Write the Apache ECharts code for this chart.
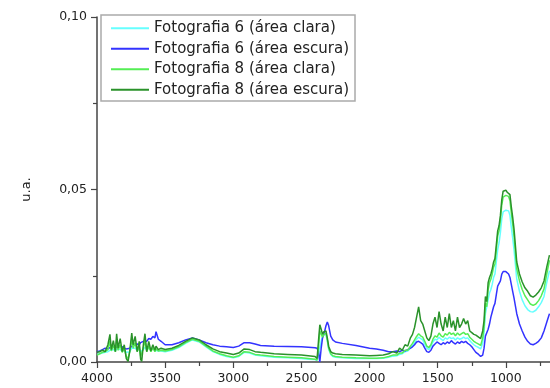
<!DOCTYPE html>
<html>
<head>
<meta charset="utf-8">
<script src="https://cdn.jsdelivr.net/npm/echarts@6/dist/echarts.min.js"></script>
<style>html,body{margin:0;padding:0;background:#fff}#c{width:550px;height:388px}</style>
</head>
<body>
<div id="c"></div>
<script>
const seriesNames = ['Fotografia 6 (área clara)','Fotografia 6 (área escura)','Fotografia 8 (área clara)','Fotografia 8 (área escura)'];
const xTicks = [4000,3500,3000,2500,2000,1500,1000];
const yTicks = [0, 0.05, 0.10];

const wavenumber = [
 4000,3980,3960,3940,3920,3905,3895,3880,3865,3856,3845,3830,3815,3800,3785,3772,3760,3745,3735,3720,3705,3690,3680,3672,3660,3648,3635,3620,3605,3590,3575,3567,3550,3530,3500,
 3450,3400,3350,3300,3250,3200,3150,3100,3050,3000,2960,2920,2880,2840,2800,2700,2600,2500,2450,2400,
 2385,2375,2365,2355,2345,2335,2320,2310,2300,2285,2270,2250,2200,2100,2000,
 1950,1900,1860,1830,1800,1780,1760,1740,1720,1700,1685,1670,1655,1640,1625,1610,1595,1580,1565,1550,1535,1520,1505,1490,1475,1460,1445,1430,1415,1400,1385,1370,1355,1340,1325,1310,1295,1280,1265,1250,1235,1220,
 1200,1185,1170,1160,1150,1140,1130,1120,1110,1100,1090,1080,1070,1060,1050,1040,1030,1020,1010,1000,990,980,970,960,950,940,920,900,880,860,840,820,800,780,760,740,720,700,680
];

const foto6Clara = [
 0.0022,0.0024,0.0026,0.0028,0.0030,0.0034,0.0032,0.0036,0.0032,0.0038,0.0034,0.0036,0.0032,0.0034,0.0028,0.0026,0.0030,0.0040,0.0036,0.0040,0.0034,0.0038,0.0030,0.0030,0.0036,0.0042,0.0036,0.0040,0.0036,0.0038,0.0034,0.0036,0.0032,0.0032,0.0030,
 0.0034,0.0042,0.0054,0.0064,0.0058,0.0044,0.0030,0.0022,0.0016,0.0012,0.0016,0.0028,0.0026,0.0020,0.0018,0.0014,0.0012,0.0010,0.0008,0.0007,
 0.0005,0.0020,0.0040,0.0060,0.0075,0.0082,0.0080,0.0060,0.0036,0.0022,0.0016,0.0014,0.0012,0.0010,0.0010,
 0.0010,0.0011,0.0014,0.0017,0.0018,0.0022,0.0024,0.0030,0.0032,0.0040,0.0048,0.0056,0.0066,0.0072,0.0068,0.0064,0.0052,0.0040,0.0036,0.0044,0.0058,0.0066,0.0064,0.0072,0.0066,0.0062,0.0070,0.0066,0.0072,0.0068,0.0070,0.0064,0.0070,0.0066,0.0068,0.0072,0.0068,0.0070,0.0062,0.0056,0.0050,0.0046,
 0.0042,0.0038,0.0055,0.0085,0.0140,0.0135,0.0180,0.0200,0.0210,0.0225,0.0245,0.0255,0.0290,0.0325,0.0345,0.0375,0.0415,0.0435,0.0432,0.0440,0.0436,0.0438,0.0425,0.0390,0.0360,0.0325,0.0240,0.0205,0.0180,0.0163,0.0152,0.0146,0.0145,0.0150,0.0160,0.0172,0.0190,0.0230,0.0265
];

const foto6Escura = [
 0.0030,0.0032,0.0036,0.0040,0.0038,0.0042,0.0040,0.0044,0.0042,0.0046,0.0044,0.0046,0.0044,0.0040,0.0038,0.0036,0.0040,0.0046,0.0048,0.0050,0.0052,0.0050,0.0056,0.0054,0.0060,0.0064,0.0060,0.0068,0.0066,0.0074,0.0070,0.0088,0.0066,0.0060,0.0050,
 0.0050,0.0056,0.0064,0.0070,0.0064,0.0056,0.0050,0.0046,0.0044,0.0042,0.0046,0.0056,0.0056,0.0052,0.0048,0.0046,0.0045,0.0044,0.0043,0.0041,
 0.0040,0.0030,0.0000,0.0040,0.0070,0.0080,0.0105,0.0116,0.0105,0.0075,0.0064,0.0058,0.0054,0.0048,0.0040,
 0.0038,0.0034,0.0030,0.0030,0.0032,0.0030,0.0034,0.0032,0.0036,0.0040,0.0044,0.0050,0.0058,0.0060,0.0056,0.0052,0.0040,0.0030,0.0028,0.0034,0.0046,0.0052,0.0058,0.0054,0.0050,0.0056,0.0052,0.0058,0.0054,0.0062,0.0056,0.0052,0.0058,0.0054,0.0060,0.0056,0.0060,0.0054,0.0050,0.0044,0.0036,0.0028,
 0.0022,0.0016,0.0020,0.0040,0.0075,0.0072,0.0095,0.0110,0.0130,0.0145,0.0160,0.0170,0.0195,0.0220,0.0225,0.0235,0.0255,0.0262,0.0258,0.0262,0.0258,0.0255,0.0245,0.0225,0.0205,0.0185,0.0140,0.0110,0.0090,0.0072,0.0060,0.0052,0.0050,0.0054,0.0060,0.0070,0.0090,0.0115,0.0140
];

const foto8Clara = [
 0.0020,0.0024,0.0028,0.0030,0.0036,0.0060,0.0032,0.0048,0.0030,0.0060,0.0034,0.0050,0.0028,0.0040,0.0016,0.0010,0.0030,0.0066,0.0040,0.0056,0.0030,0.0046,0.0016,0.0012,0.0040,0.0062,0.0030,0.0046,0.0030,0.0040,0.0030,0.0038,0.0032,0.0034,0.0032,
 0.0036,0.0044,0.0056,0.0066,0.0060,0.0046,0.0032,0.0024,0.0018,0.0014,0.0018,0.0030,0.0028,0.0022,0.0020,0.0016,0.0014,0.0012,0.0010,0.0008,
 0.0006,0.0040,0.0090,0.0085,0.0072,0.0080,0.0084,0.0064,0.0040,0.0024,0.0018,0.0016,0.0014,0.0012,0.0011,
 0.0011,0.0012,0.0016,0.0020,0.0020,0.0026,0.0026,0.0034,0.0034,0.0046,0.0054,0.0064,0.0074,0.0082,0.0076,0.0072,0.0060,0.0046,0.0042,0.0050,0.0066,0.0076,0.0072,0.0084,0.0076,0.0072,0.0082,0.0078,0.0086,0.0080,0.0084,0.0076,0.0084,0.0078,0.0082,0.0086,0.0080,0.0082,0.0072,0.0066,0.0060,0.0056,
 0.0052,0.0048,0.0070,0.0100,0.0170,0.0160,0.0210,0.0230,0.0240,0.0255,0.0275,0.0285,0.0325,0.0365,0.0380,0.0410,0.0455,0.0478,0.0475,0.0483,0.0478,0.0480,0.0468,0.0432,0.0400,0.0365,0.0270,0.0235,0.0210,0.0192,0.0180,0.0168,0.0164,0.0168,0.0178,0.0192,0.0212,0.0255,0.0295
];

const foto8Escura = [
 0.0028,0.0030,0.0034,0.0030,0.0050,0.0080,0.0036,0.0062,0.0030,0.0082,0.0040,0.0068,0.0030,0.0050,0.0010,0.0002,0.0030,0.0084,0.0050,0.0074,0.0030,0.0060,0.0008,0.0002,0.0050,0.0082,0.0030,0.0060,0.0032,0.0050,0.0034,0.0046,0.0036,0.0040,0.0036,
 0.0040,0.0048,0.0060,0.0070,0.0064,0.0050,0.0038,0.0030,0.0026,0.0022,0.0026,0.0038,0.0036,0.0030,0.0028,0.0024,0.0022,0.0020,0.0018,0.0016,
 0.0010,0.0060,0.0108,0.0095,0.0080,0.0088,0.0090,0.0070,0.0045,0.0030,0.0026,0.0024,0.0022,0.0020,0.0018,
 0.0019,0.0020,0.0024,0.0030,0.0026,0.0040,0.0034,0.0050,0.0046,0.0070,0.0080,0.0100,0.0130,0.0160,0.0120,0.0110,0.0090,0.0070,0.0062,0.0075,0.0110,0.0130,0.0100,0.0146,0.0110,0.0090,0.0130,0.0100,0.0140,0.0100,0.0120,0.0090,0.0130,0.0100,0.0110,0.0126,0.0110,0.0120,0.0090,0.0085,0.0080,0.0078,
 0.0072,0.0068,0.0090,0.0120,0.0190,0.0175,0.0230,0.0245,0.0255,0.0270,0.0290,0.0300,0.0340,0.0380,0.0395,0.0425,0.0470,0.0495,0.0490,0.0498,0.0492,0.0496,0.0485,0.0450,0.0420,0.0385,0.0290,0.0255,0.0232,0.0215,0.0205,0.0192,0.0188,0.0194,0.0203,0.0215,0.0235,0.0275,0.0310
];

const colors = ['#66ffff','#3333ff','#55ee55','#2a922a'];
const values = [foto6Clara, foto6Escura, foto8Clara, foto8Escura];

const chart = echarts.init(document.getElementById('c'), null, {renderer:'canvas'});
const FONT = '"DejaVu Sans", sans-serif';
chart.setOption({
  animation:false,
  backgroundColor:'#fff',
  color: colors,
  grid:{left:97, top:17, width:477, height:345, containLabel:false, outerBoundsMode:'none'},
  legend:{
    orient:'vertical', left:101, top:15,
    borderColor:'#aaa', borderWidth:1.5, padding:[3,6,1,10],
    itemGap:0, itemWidth:38, itemHeight:2,
    textStyle:{fontFamily:FONT, fontSize:15, color:'#222', lineHeight:20.5},
    data: seriesNames.map(n => ({name:n, icon:'rect'}))
  },
  xAxis:{
    type:'value', inverse:true, min:500, max:4000, interval:500,
    axisLine:{show:true, onZero:false, lineStyle:{color:'#444', width:1.5}},
    axisTick:{show:true, length:6, inside:false, lineStyle:{color:'#444', width:1.2}},
    minorTick:{show:true, splitNumber:2, length:4, lineStyle:{color:'#444', width:1.2}},
    splitLine:{show:false},
    axisLabel:{fontFamily:FONT, fontSize:12.5, color:'#222', margin:10,
      formatter: v => xTicks.indexOf(v) >= 0 ? String(v) : ''}
  },
  yAxis:{
    type:'value', min:0, max:0.1, interval:0.05,
    name:'u.a.', nameLocation:'middle', nameGap:64, nameRotate:90,
    nameTextStyle:{fontFamily:FONT, fontSize:13, color:'#222'},
    axisLine:{show:true, lineStyle:{color:'#444', width:1.5}},
    axisTick:{show:true, length:6, lineStyle:{color:'#444', width:1.2}},
    minorTick:{show:true, splitNumber:2, length:4, lineStyle:{color:'#444', width:1.2}},
    splitLine:{show:false},
    axisLabel:{fontFamily:FONT, fontSize:12.5, color:'#222', margin:10,
      formatter: v => yTicks.some(t => Math.abs(t - v) < 1e-9) ? v.toFixed(2).replace('.', ',') : ''}
  },
  series: seriesNames.map((n, i) => ({
    name:n, type:'line', symbol:'none', showSymbol:false, clip:true,
    lineStyle:{width:1.5, color:colors[i]},
    itemStyle:{color:colors[i]},
    data: wavenumber.map((w, k) => [w, values[i][k]])
  }))
});
</script>
</body>
</html>
